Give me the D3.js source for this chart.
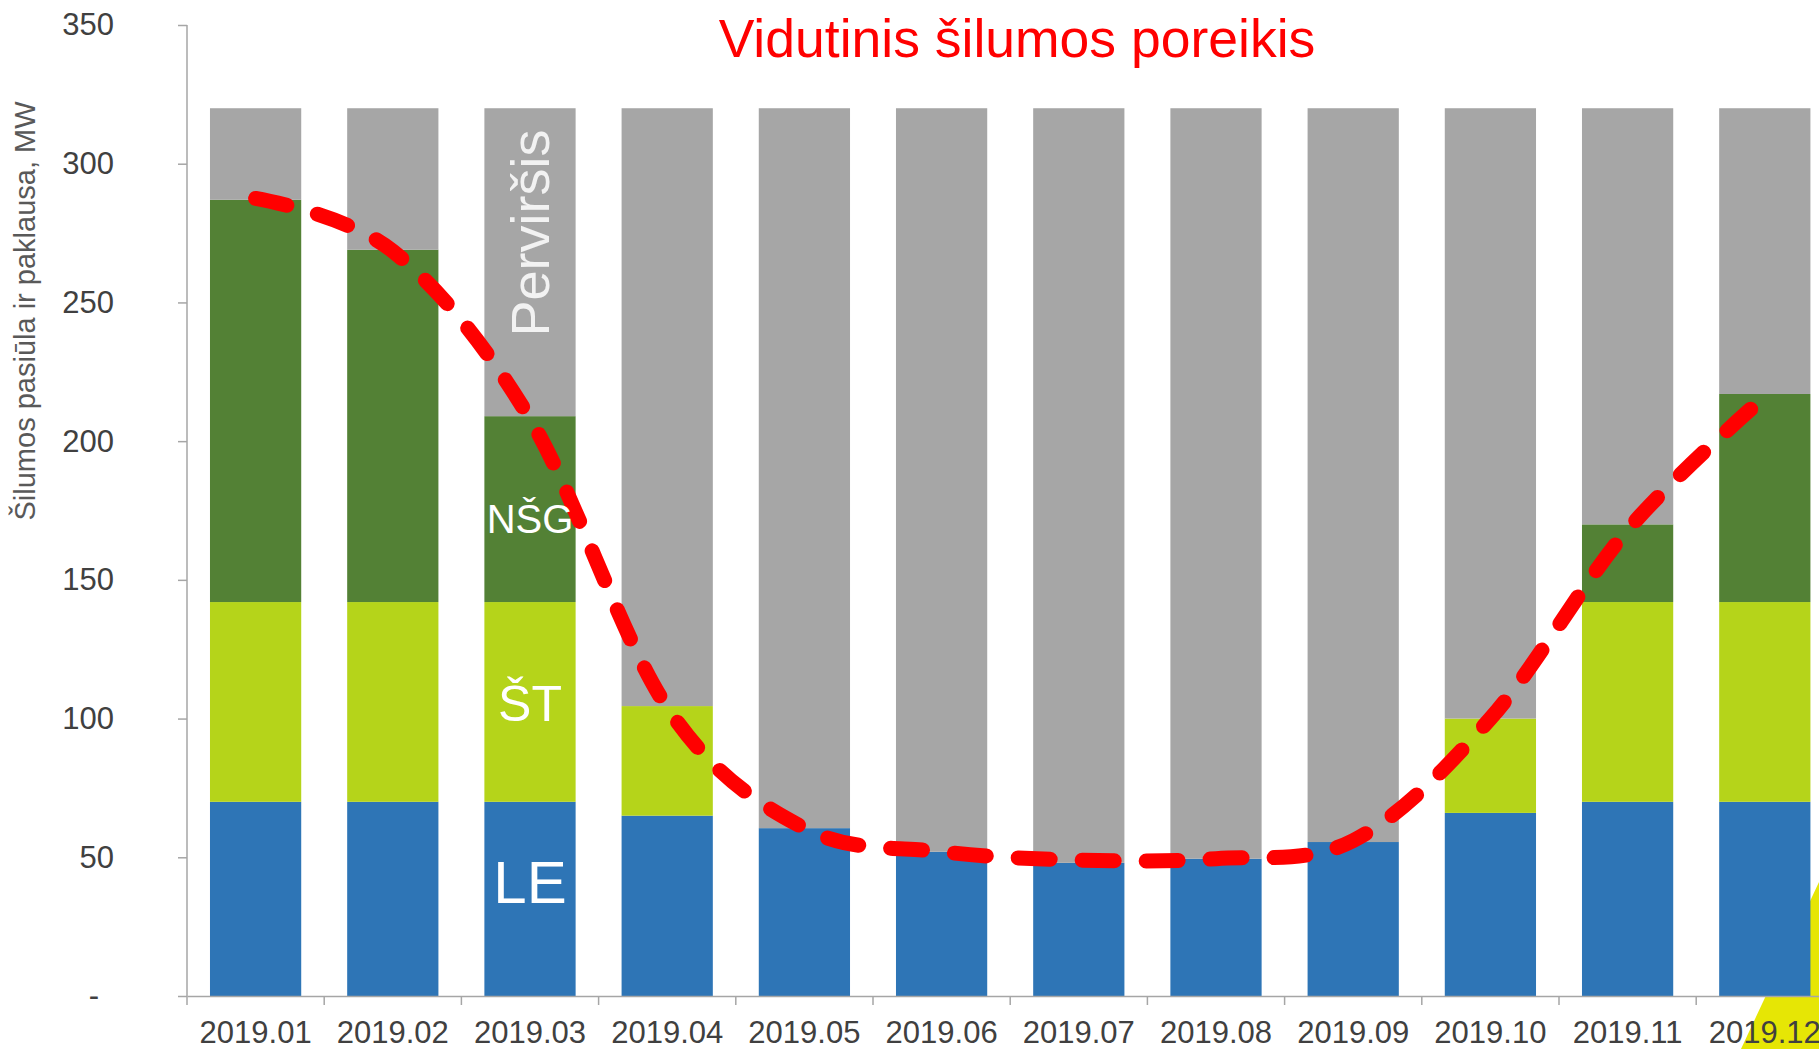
<!DOCTYPE html>
<html>
<head>
<meta charset="utf-8">
<script src="https://cdn.jsdelivr.net/npm/d3@7"></script>
<style>
  body { margin: 0; background: #fff; }
  svg { display: block; font-family: "Liberation Sans", Arial, sans-serif; }
</style>
</head>
<body>
<div id="chart"></div>
<script>
// chart data
const months = ['2019.01', '2019.02', '2019.03', '2019.04', '2019.05', '2019.06',
                '2019.07', '2019.08', '2019.09', '2019.10', '2019.11', '2019.12'];
const seriesKeys = ['LE', 'ŠT', 'NŠG', 'Perviršis'];
const leValues = [70, 70, 70, 65, 60.5, 52, 48, 49.5, 55.5, 66, 70, 70];
const stValues = [72, 72, 72, 39.5, 0, 0, 0, 0, 0, 34, 72, 72];
const nsgValues = [145, 127, 67, 0, 0, 0, 0, 0, 0, 0, 28, 75];
const excessValues = [33, 51, 111, 215.5, 259.5, 268, 272, 270.5, 264.5, 220, 150, 103];
const demandValues = [287.5, 268.5, 208, 104, 60.5, 52, 49, 49.5, 56, 100, 168, 216];
const yTicks = [0, 50, 100, 150, 200, 250, 300, 350];

// in-bar labels (drawn in the 2019.03 column), value = vertical position
const labelNames = ['LE', 'ŠT', 'NŠG', 'Perviršis'];
const labelValues = [33.5, 99, 167, 275];

const colors = {
  'LE': '#2e75b6',
  'ŠT': '#b5d41a',
  'NŠG': '#538135',
  'Perviršis': '#a6a6a6'
};

const config = {
  width: 1819,
  height: 1049,
  margin: {top: 25, left: 187, bottom: 53},
  step: 137.2,
  axisColor: '#a6a6a6',
  textColor: '#404040'
};

const svg = d3.select('#chart').append('svg')
    .attr('width', config.width)
    .attr('height', config.height);

const baseY = config.height - config.margin.bottom;

// yellow corner decoration (sits behind the chart)
svg.append('polygon')
    .attr('points', `${config.width - 78},${config.height} ${config.width},${config.height - 167} ${config.width},${config.height}`)
    .attr('fill', '#e6e605');

const xScale = d3.scaleBand()
    .domain(months)
    .range([config.margin.left, config.margin.left + config.step * months.length])
    .paddingInner(0.335)
    .paddingOuter(0.1675);

const yScale = d3.scaleLinear()
    .domain([0, 350])
    .range([baseY, config.margin.top]);

// stacked data
const rows = months.map((m, i) => ({
  month: m,
  'LE': leValues[i],
  'ŠT': stValues[i],
  'NŠG': nsgValues[i],
  'Perviršis': excessValues[i]
}));
const stacked = d3.stack().keys(seriesKeys)(rows);

svg.append('g')
  .selectAll('g')
  .data(stacked)
  .join('g')
    .attr('fill', d => colors[d.key])
  .selectAll('rect')
  .data(d => d.filter(s => s[1] - s[0] > 0))
  .join('rect')
    .attr('x', d => xScale(d.data.month))
    .attr('y', d => yScale(d[1]))
    .attr('width', xScale.bandwidth())
    .attr('height', d => yScale(d[0]) - yScale(d[1]));

// y axis
const yAxis = d3.axisLeft(yScale)
    .tickValues(yTicks)
    .tickSize(9)
    .tickPadding(64)
    .tickFormat(d => d === 0 ? '-' : d);

const yAxisG = svg.append('g')
    .attr('transform', `translate(${config.margin.left},0)`)
    .call(yAxis);
yAxisG.select('.domain')
    .attr('d', `M0,${baseY}V${config.margin.top}`)
    .attr('stroke', config.axisColor)
    .attr('stroke-width', 1.5);
yAxisG.selectAll('.tick line').attr('stroke', config.axisColor).attr('stroke-width', 1.5);
yAxisG.selectAll('.tick text')
    .attr('fill', config.textColor)
    .style('font-size', '31px')
    .filter(d => d === 0)
    .attr('x', -88);

// x axis: labels centered under bars, ticks on category boundaries
const xAxis = d3.axisBottom(xScale)
    .tickSize(0)
    .tickPadding(25);

const xAxisG = svg.append('g')
    .attr('transform', `translate(0,${baseY})`)
    .call(xAxis);
xAxisG.select('.domain')
    .attr('stroke', config.axisColor)
    .attr('stroke-width', 1.5);
xAxisG.selectAll('.tick text')
    .attr('fill', config.textColor)
    .style('font-size', '31px');

const boundaries = months.map(m => xScale(m) - xScale.step() * xScale.paddingInner() / 2);
xAxisG.selectAll('.bound')
  .data(boundaries)
  .join('line')
    .attr('class', 'bound')
    .attr('x1', d => d)
    .attr('x2', d => d)
    .attr('y1', 0)
    .attr('y2', 9)
    .attr('stroke', config.axisColor)
    .attr('stroke-width', 1.5);

// demand line
const line = d3.line()
    .x((d, i) => xScale(months[i]) + xScale.bandwidth() / 2)
    .y(d => yScale(d))
    .curve(d3.curveCatmullRom.alpha(0));

svg.append('path')
    .datum(demandValues)
    .attr('d', line)
    .attr('fill', 'none')
    .attr('stroke', '#ff0000')
    .attr('stroke-width', 15)
    .attr('stroke-linecap', 'round')
    .attr('stroke-dasharray', '32 32');

// in-bar labels
const labelX = xScale('2019.03') + xScale.bandwidth() / 2;
const labelSizes = {'LE': 60, 'ŠT': 50, 'NŠG': 40, 'Perviršis': 54};
labelNames.forEach((name, i) => {
  const t = svg.append('text')
      .attr('text-anchor', 'middle')
      .attr('fill', '#ffffff')
      .style('font-size', labelSizes[name] + 'px')
      .text(name);
  if (name === 'Perviršis') {
    t.attr('transform', `translate(${labelX + 19},${yScale(labelValues[i])}) rotate(-90)`)
     .attr('fill', '#f2f2f2');
  } else {
    t.attr('x', labelX).attr('y', yScale(labelValues[i]));
  }
});

// title
svg.append('text')
    .attr('x', 1017)
    .attr('y', 57)
    .attr('text-anchor', 'middle')
    .attr('fill', '#ff0000')
    .style('font-size', '53.5px')
    .text('Vidutinis šilumos poreikis');

// y axis title
svg.append('text')
    .attr('transform', `translate(35,311) rotate(-90)`)
    .attr('text-anchor', 'middle')
    .attr('fill', '#595959')
    .style('font-size', '29px')
    .text('Šilumos pasiūla ir paklausa, MW');
</script>
</body>
</html>
